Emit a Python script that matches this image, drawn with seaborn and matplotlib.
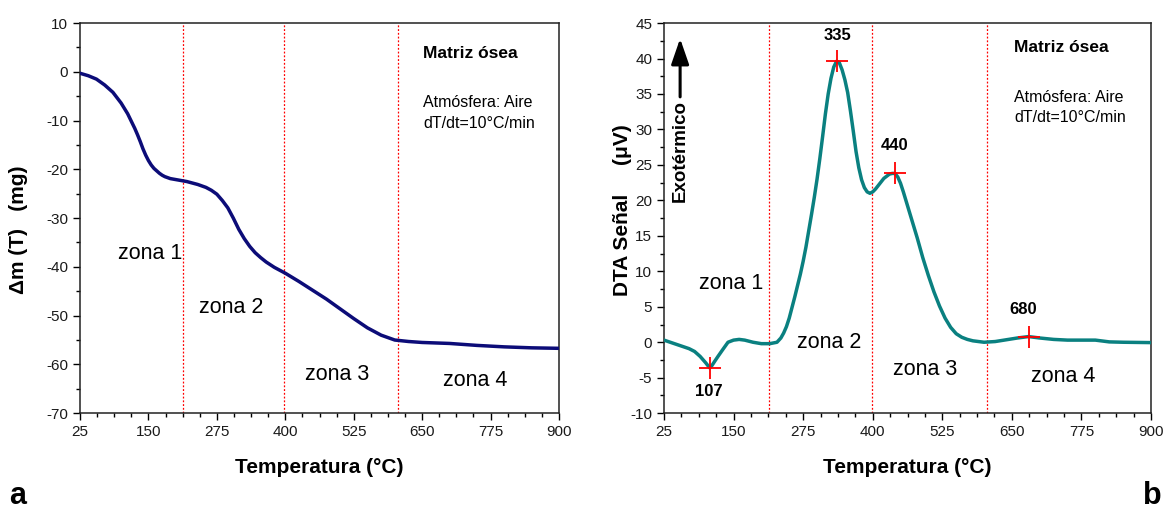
import numpy as np
import pandas as pd
import matplotlib
matplotlib.use("Agg")
import matplotlib.pyplot as plt
from matplotlib.ticker import MultipleLocator, AutoMinorLocator
import seaborn as sns

# Thermogravimetric curve (mass change, mg) vs temperature (°C)
tga_temp = [25, 40, 55, 70, 85, 100, 112, 125, 130, 135, 140, 145, 150, 155, 160,
            165, 170, 175, 180, 190, 205, 220, 240, 255, 265, 275, 285, 295, 305,
            315, 325, 335, 345, 355, 365, 380, 400, 425, 450, 475, 500, 525, 550,
            575, 600, 625, 650, 700, 750, 800, 850, 900]
tga_mass = [-0.3, -0.8, -1.5, -2.7, -4.2, -6.4, -8.6, -11.6, -12.9, -14.3, -15.8,
            -17.1, -18.2, -19.1, -19.8, -20.3, -20.8, -21.2, -21.5, -21.9, -22.2,
            -22.5, -23.1, -23.7, -24.3, -25.1, -26.4, -27.9, -30.0, -32.3, -34.2,
            -35.8, -37.1, -38.1, -39.0, -40.1, -41.3, -43.0, -44.8, -46.6, -48.6,
            -50.6, -52.5, -54.0, -55.0, -55.3, -55.5, -55.7, -56.1, -56.4, -56.6,
            -56.7]

# Differential thermal analysis signal (µV) vs temperature (°C)
dta_temp = [25, 40, 55, 70, 80, 90, 100, 104, 107, 111, 116, 122, 130, 140, 150,
            160, 170, 185, 200, 215, 228, 235, 240, 245, 250, 255, 260, 265, 270,
            275, 280, 285, 290, 295, 300, 305, 310, 315, 320, 325, 330, 335, 340,
            345, 350, 355, 360, 365, 370, 375, 380, 385, 390, 395, 400, 405, 410,
            415, 420, 425, 430, 435, 440, 445, 450, 455, 460, 465, 470, 475, 480,
            490, 500, 510, 520, 530, 540, 550, 560, 570, 580, 600, 620, 640, 660,
            680, 700, 725, 750, 800, 825, 850, 900]
dta_signal = [0.3, -0.1, -0.5, -0.9, -1.3, -2.0, -2.9, -3.3, -3.6, -3.3, -2.7,
              -2.0, -1.1, 0.0, 0.3, 0.4, 0.3, 0.0, -0.2, -0.2, 0.0, 0.6, 1.3,
              2.2, 3.4, 4.9, 6.4, 8.0, 9.6, 11.4, 13.4, 15.7, 18.0, 20.4, 23.0,
              25.9, 29.0, 32.2, 35.0, 37.2, 38.8, 39.6, 39.4, 38.4, 37.0, 35.2,
              32.6, 29.8, 26.9, 24.6, 22.9, 21.8, 21.2, 21.0, 21.2, 21.6, 22.1,
              22.6, 23.1, 23.4, 23.7, 23.8, 23.8, 23.3, 22.4, 21.2, 19.9, 18.6,
              17.3, 16.0, 14.7, 11.9, 9.4, 7.1, 5.1, 3.4, 2.1, 1.2, 0.7, 0.4, 0.2,
              0.0, 0.1, 0.35, 0.6, 0.8, 0.6, 0.4, 0.3, 0.3, 0.05, 0.0, -0.05]

# Peak temperatures and their signal level
peak_temp = [107, 335, 440, 680]
peak_signal = [-3.6, 39.6, 23.8, 0.8]
peak_labels = ["107", "335", "440", "680"]

# Zone boundaries (°C)
zone_bounds = [213, 398, 606]
zone_names = ["zona 1", "zona 2", "zona 3", "zona 4"]

x_ticks = [25, 150, 275, 400, 525, 650, 775, 900]

sns.set_theme(style="ticks")
plt.rcParams["font.family"] = ["Liberation Sans", "DejaVu Sans"]
plt.rcParams["axes.unicode_minus"] = False
plt.rcParams["text.color"] = "black"
plt.rcParams["axes.labelcolor"] = "black"
plt.rcParams["axes.linewidth"] = 1.1
plt.rcParams["xtick.major.size"] = 5
plt.rcParams["ytick.major.size"] = 5
plt.rcParams["xtick.minor.size"] = 3
plt.rcParams["ytick.minor.size"] = 3
plt.rcParams["xtick.minor.visible"] = True
plt.rcParams["ytick.minor.visible"] = True

fig = plt.figure(figsize=(11.7, 5.12), dpi=100)
ax1 = fig.add_axes([0.0684, 0.193, 0.4094, 0.762])
ax2 = fig.add_axes([0.5675, 0.193, 0.4163, 0.762])

tga = pd.DataFrame({"T": tga_temp, "m": tga_mass})
dta = pd.DataFrame({"T": dta_temp, "s": dta_signal})

for ax in (ax1, ax2):
    ax.set_xlim(25, 900)
    ax.set_xticks(x_ticks)
    ax.xaxis.set_minor_locator(AutoMinorLocator(4))
    ax.tick_params(axis="both", which="both", direction="out", colors="black",
                   labelcolor="#1a1a1a", labelsize=11, width=1.0)
    for s in ax.spines.values():
        s.set_color("#222222")
        s.set_linewidth(1.1)
    for b in zone_bounds:
        ax.axvline(b, color="red", linestyle=(0, (1.5, 1.5)), linewidth=0.9, zorder=1)
    ax.set_xlabel("Temperatura (°C)", fontsize=15, fontweight="bold")
    ax.xaxis.set_label_coords(0.5, -0.115)

# Panel a: mass change
sns.lineplot(data=tga, x="T", y="m", ax=ax1, color="#0c0c78", linewidth=2.5,
             sort=False, zorder=3)
ax1.set_ylim(-70, 10)
ax1.yaxis.set_major_locator(MultipleLocator(10))
ax1.yaxis.set_minor_locator(AutoMinorLocator(2))
ax1.set_ylabel("Δm (T)   (mg)", fontsize=15, fontweight="bold")
ax1.yaxis.set_label_coords(-0.108, 0.47)

zone_pos_a = [(153, -37.2), (302, -48.3), (494, -62.0), (747, -63.3)]
for name, (zx, zy) in zip(zone_names, zone_pos_a):
    ax1.text(zx, zy, name, fontsize=15.5, ha="center", va="center")
ax1.text(652, 3.8, "Matriz ósea", fontsize=12.5, fontweight="bold", va="center")
ax1.text(652, -6.2, "Atmósfera: Aire", fontsize=11.5, va="center")
ax1.text(652, -10.5, "dT/dt=10°C/min", fontsize=11.5, va="center")

# Panel b: DTA signal
sns.lineplot(data=dta, x="T", y="s", ax=ax2, color="#0a8080", linewidth=2.5,
             sort=False, zorder=3)
sns.scatterplot(x=peak_temp, y=peak_signal, ax=ax2, marker="+", s=260,
                color="red", linewidth=1.3, zorder=4)
ax2.set_ylim(-10, 45)
ax2.yaxis.set_major_locator(MultipleLocator(5))
ax2.yaxis.set_minor_locator(AutoMinorLocator(2))
ax2.set_ylabel("DTA Señal     (μV)", fontsize=15, fontweight="bold")
ax2.yaxis.set_label_coords(-0.066, 0.52)

label_pos = [(106, -6.9), (337, 43.3), (440, 27.7), (670, 4.6)]
for lab, (lx, ly) in zip(peak_labels, label_pos):
    ax2.text(lx, ly, lab, fontsize=12, fontweight="bold", ha="center", va="center")

zone_pos_b = [(145, 8.3), (321, 0.0), (494, -3.8), (742, -4.8)]
for name, (zx, zy) in zip(zone_names, zone_pos_b):
    ax2.text(zx, zy, name, fontsize=15.5, ha="center", va="center")
ax2.text(654, 41.5, "Matriz ósea", fontsize=12.5, fontweight="bold", va="center")
ax2.text(654, 34.5, "Atmósfera: Aire", fontsize=11.5, va="center")
ax2.text(654, 31.7, "dT/dt=10°C/min", fontsize=11.5, va="center")

# Exothermic direction indicator
ax2.text(54, 27.0, "Exotérmico", rotation=90, fontsize=13.5, fontweight="bold",
         ha="center", va="center")
ax2.annotate("", xy=(54, 43.2), xytext=(54, 34.2),
             arrowprops=dict(arrowstyle="-|>,head_length=1.3,head_width=0.45",
                             color="black", lw=2.2))

# Panel letters
fig.text(0.008, 0.015, "a", fontsize=22, fontweight="bold", va="baseline",
         family=["Liberation Sans Narrow", "Liberation Sans"])
fig.text(0.977, 0.015, "b", fontsize=22, fontweight="bold", va="baseline",
         family=["Liberation Sans Narrow", "Liberation Sans"])

fig.savefig("out.png", dpi=100)
